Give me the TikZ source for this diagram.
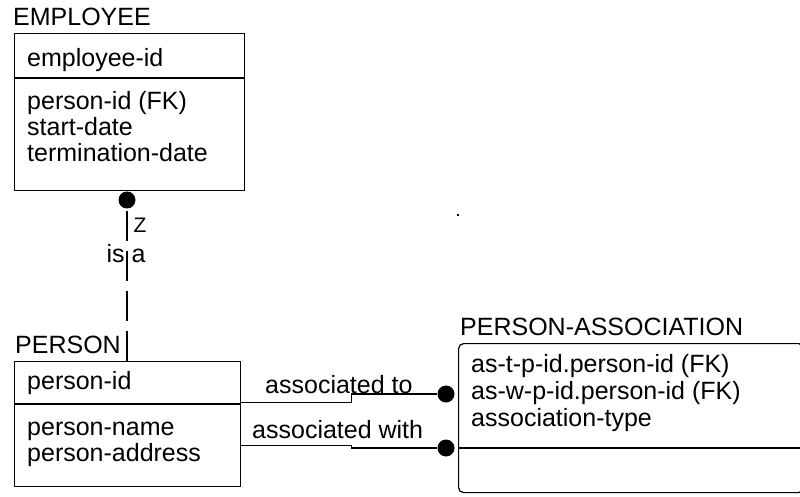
\documentclass[tikz,border=0pt]{standalone}
\usepackage{fontspec}
\setmainfont{Liberation Sans}
\usepackage{tikz}
\usetikzlibrary{arrows.meta,positioning,calc}
\newcommand{\erfont}{\fontsize{25}{30}\selectfont}
\newcommand{\erfontsmall}{\fontsize{21}{24}\selectfont}
\tikzset{
	entity/.style={
		draw,
		line width=1.2pt,
		inner sep=0pt,
		anchor=north west
	},
	ename/.style={
		anchor=base west,
		inner sep=0pt,
		font=\erfont
	},
	attr/.style={
		anchor=base west,
		inner sep=0pt,
		font=\erfont
	},
	erdot/.style={
		circle,
		fill=black,
		minimum size=17pt,
		inner sep=0pt
	},
	rel/.style={
		line width=1.2pt
	},
	isarel/.style={
		line width=1.2pt,
		dash pattern=on 30pt off 10pt
	}
}

\begin{document}
\begin{tikzpicture}[x=1pt,y=-1pt]
	
	\clip (0,0) rectangle (800,497);
	
	% Employee
	\node[ename] (empname) at (13,26) {EMPLOYEE};
	\node[entity,minimum width=230.5pt,minimum height=157pt] (emp) at (13.5,33) {};
	\draw[rel] ([yshift=-45pt]emp.north west) -- ([yshift=-45pt]emp.north east);
	\node[attr] (empkey) at (27,67) {employee-id};
	\node[attr] (empa1) at (27,110) {person-id (FK)};
	\node[attr] (empa2) at (27,136) {start-date};
	\node[attr] (empa3) at (27,162) {termination-date};
	
	% Person
	\node[ename] (pername) at (15,353) {PERSON};
	\node[entity,minimum width=226.5pt,minimum height=125pt] (per) at (13.5,361) {};
	\draw[rel] ([yshift=-43pt]per.north west) -- ([yshift=-43pt]per.north east);
	\node[attr] (perkey) at (27,389) {person-id};
	\node[attr] (pera1) at (27,435) {person-name};
	\node[attr] (pera2) at (27,461) {person-address};
	
	% Person association
	\node[ename] (paname) at (460,335) {PERSON-ASSOCIATION};
	\node[entity,rounded corners=5pt,minimum width=345pt,minimum height=149pt] (pa) at (458,343) {};
	\draw[rel] ([yshift=-105pt]pa.north west) -- ([yshift=-105pt]pa.north east);
	\node[attr] (pakey1) at (471,372) {as-t-p-id.person-id (FK)};
	\node[attr] (pakey2) at (471,399) {as-w-p-id.person-id (FK)};
	\node[attr] (pakey3) at (471,426) {association-type};
	
	% Relationship ends
	\node[erdot] (d0) at (127,200) {};
	\node[erdot] (d1) at (446,394) {};
	\node[erdot] (d2) at (446,448) {};
	
	% is a
	\draw[isarel] (d0 |- per.north) -- (d0);
	\node[anchor=base,inner sep=0pt,font=\erfontsmall] (zlab) at (140,233) {Z};
	\node[anchor=base,inner sep=0pt,font=\erfont] (isalab) at (126,262) {is a};
	
	% Associations
	\draw[rel] ([yshift=21.5pt]per.east) -- ++(110,0) |- (d1);
	\draw[rel] ([yshift=-21.5pt]per.east) -- ++(110,0) |- (d2);
	\node[attr] (tolab) at (265,393) {associated to};
	\node[attr] (withlab) at (252,438) {associated with};
	
	\fill (457,214) rectangle (459,216);
	
\end{tikzpicture}
\end{document}
